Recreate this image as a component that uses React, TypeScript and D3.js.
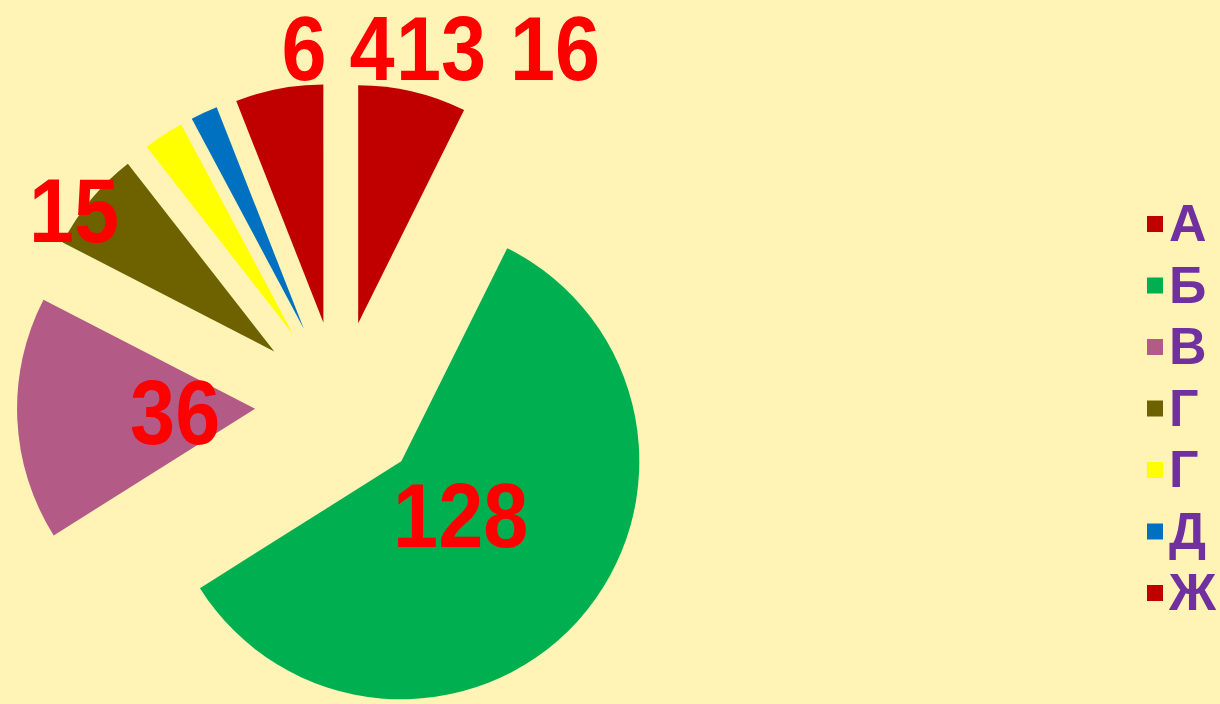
import React from "react";
import * as d3 from "d3";

const categories = ["А", "Б", "В", "Г", "Г", "Д", "Ж"];
const values = [16, 128, 36, 15, 6, 4, 13];
const colors = ["#C00000", "#00B050", "#B35A86", "#6E6100", "#FFFF00", "#0070C0", "#C00000"];

// label placement: null -> along slice bisector (inside); otherwise manual anchor (ink centre)
const labelAnchors: (null | [number, number])[] = [
  [555, 48],
  null,
  null,
  [74, 210],
  [304, 48],
  [372, 48],
  [441, 48],
];

const W = 1220;
const H = 704;
const CX = 339;
const CY = 405;
const R = 238;
const EXPLODE = 84;
const LABEL_R = 80;
const BG = "#FFF4B6";

export default function App() {
  const pie = d3.pie<number>().sort(null).value((d) => d).startAngle(0).endAngle(2 * Math.PI);
  const arcs = pie(values);
  const arc = d3.arc<d3.PieArcDatum<number>>().innerRadius(0).outerRadius(R);

  const legendTop = 222;
  const legendStep = 61.5;

  return (
    <svg
      width={W}
      height={H}
      style={{ position: "absolute", left: 0, top: 0, background: BG }}
      fontFamily="'Liberation Sans', Arial, sans-serif"
    >
      <rect x={0} y={0} width={W} height={H} fill={BG} />
      <g transform={`translate(${CX},${CY})`}>
        {arcs.map((a, i) => {
          const mid = (a.startAngle + a.endAngle) / 2;
          const dx = EXPLODE * Math.sin(mid);
          const dy = -EXPLODE * Math.cos(mid);
          return (
            <path key={i} d={arc(a) || ""} fill={colors[i]} transform={`translate(${dx},${dy})`} />
          );
        })}
      </g>
      {arcs.map((a, i) => {
        const mid = (a.startAngle + a.endAngle) / 2;
        let x: number, y: number;
        const anchor = labelAnchors[i];
        if (anchor) {
          x = anchor[0];
          y = anchor[1];
        } else {
          x = CX + (EXPLODE + LABEL_R) * Math.sin(mid);
          y = CY - (EXPLODE + LABEL_R) * Math.cos(mid);
        }
        return (
          <text
            key={"l" + i}
            transform={`translate(${x},${y + 32}) scale(0.9,1)`}
            textAnchor="middle"
            fontSize={90}
            fontWeight="bold"
            fill="#FF0000"
          >
            {values[i]}
          </text>
        );
      })}
      {categories.map((c, i) => {
        const cy = legendTop + i * legendStep;
        return (
          <g key={"g" + i}>
            <rect x={1147} y={cy - 6} width={16} height={16} fill={colors[i]} />
            <text x={1169} y={cy + 19} fontSize={52} fontWeight="bold" fill="#7030A0">
              {c}
            </text>
          </g>
        );
      })}
    </svg>
  );
}
